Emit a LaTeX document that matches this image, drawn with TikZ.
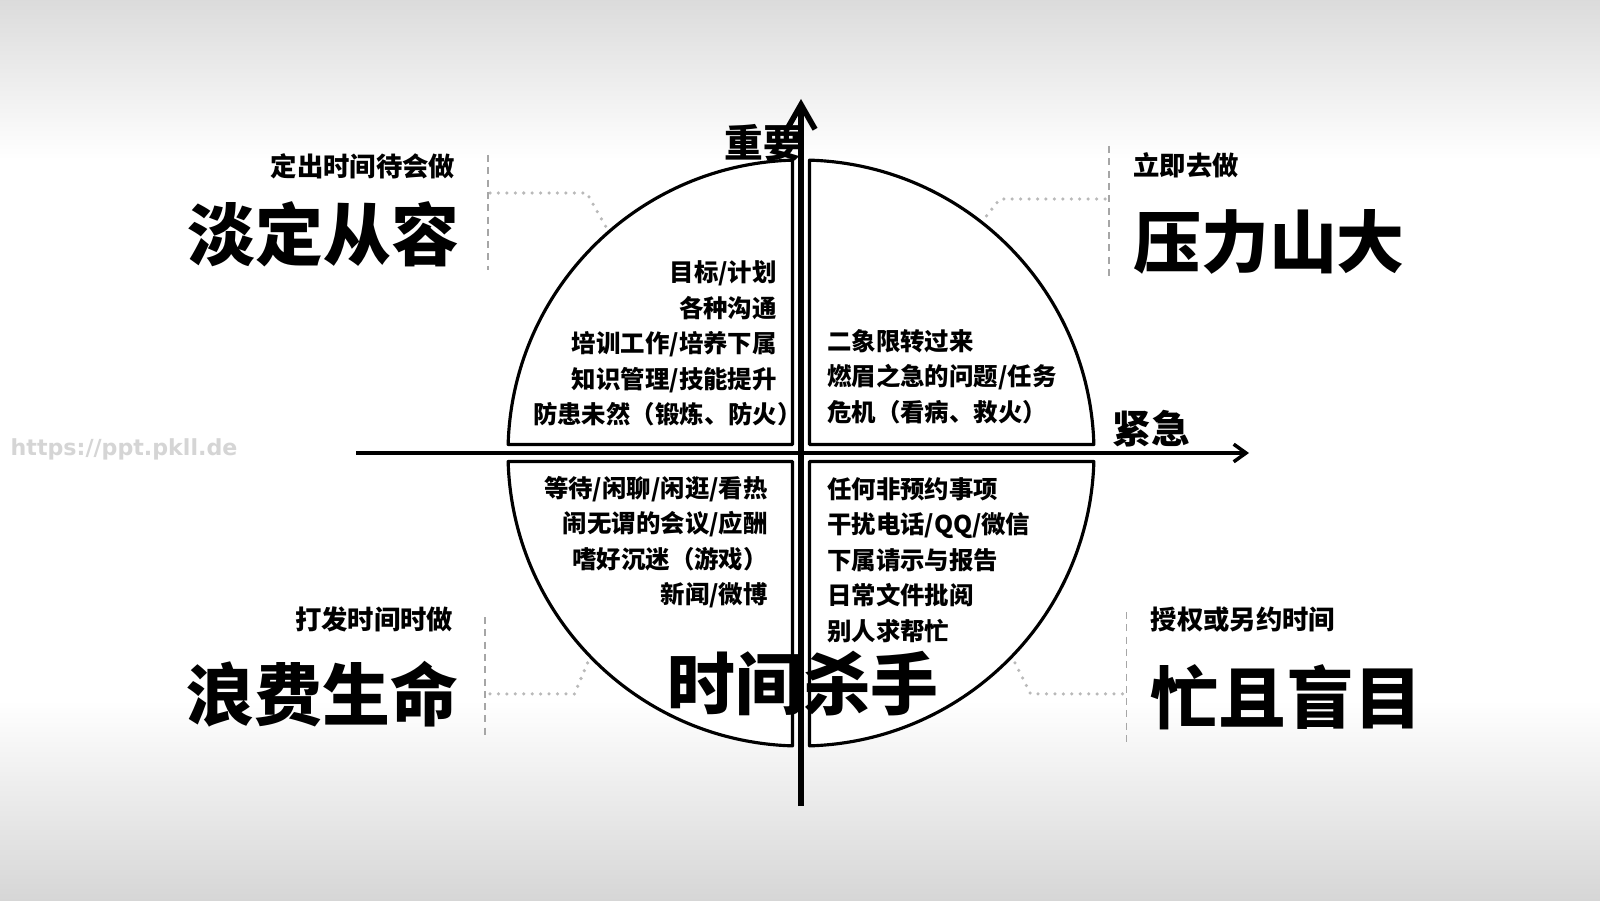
\documentclass[tikz,border=0pt]{standalone}
\usepackage{fontspec}
\newfontfamily\cjk{Noto Sans CJK SC}
\IfFontExistsTF{Noto Sans CJK SC Black}
  {\newfontfamily\cjkheavy{Noto Sans CJK SC Black}}
  {\newfontfamily\cjkheavy{Noto Sans CJK SC}[UprightFont=*, UprightFeatures={FakeBold=1.5}]}
\newfontfamily\urlfont{DejaVu Sans}
\usetikzlibrary{arrows.meta,positioning,calc}

\begin{document}
\begin{tikzpicture}[
    quarter/.style={draw, line width=0.9pt, fill=white, line join=round},
    axisLine/.style={line width=1.6pt},
    itemText/.style={font=\cjk\bfseries\fontsize{6.95pt}{10.1pt}\selectfont, inner sep=0pt},
    noteText/.style={font=\cjk\bfseries\fontsize{7.5pt}{9pt}\selectfont, inner sep=0pt},
    bigText/.style={font=\cjkheavy\fontsize{19.3pt}{21pt}\selectfont, inner sep=0pt},
    axisText/.style={font=\cjkheavy\fontsize{11pt}{12pt}\selectfont, inner sep=0pt},
    guideLine/.style={gray!70, line width=0.5pt, dash pattern=on 2pt off 1.5pt},
    dotLine/.style={gray!55, line width=1pt, line cap=round, dash pattern=on 0pt off 2.4pt}
]
		% background
		\fill[white] (0,0) rectangle (16,9);
		\shade[top color=black!14, bottom color=white] (0,7.4) rectangle (16,9);
		\shade[top color=white, bottom color=black!16] (0,0) rectangle (16,2.0);
		\useasboundingbox (0,0) rectangle (16,9);
		\node[font=\urlfont\bfseries\fontsize{6.3pt}{7pt}\selectfont, text=gray!33, anchor=west, inner sep=0pt] (siteMark) at (0.10,4.51) {https://ppt.pkll.de};
		
		\coordinate (c) at (8.01,4.47);
		\def\R{2.93}
		\def\a{1.67}
		
		% dotted leaders
		\draw[dotLine] (4.90,7.07) -- (5.867,7.07) -- ($(c)+(131:\R)$);
		\draw[dotLine] (11.05,7.01) -- (10.0,7.01) -- ($(c)+(52:\R)$);
		\draw[dotLine] (4.90,2.061) -- (5.745,2.061) -- ($(c)+(224:\R)$);
		\draw[dotLine] (11.224,2.061) -- (10.306,2.061) -- ($(c)+(-44:\R)$);
		
		% quarters
		\foreach \s in {0,90,180,270}
			\draw[quarter, shift={(c)}] (\s+\a:\R) arc[start angle=\s+\a, end angle=\s+90-\a, radius=\R] -- (\s+45:0.12) -- cycle;
		
		% dashed separators
		\draw[guideLine] (4.878,7.45) -- (4.878,6.296);
		\draw[guideLine] (11.09,7.54) -- (11.09,6.225);
		\draw[guideLine] (4.847,2.83) -- (4.847,1.60);
		\draw[guideLine] (11.265,2.88) -- (11.265,1.55);
		
		% labels
		\node[noteText, anchor=east] (calmNote) at (4.56,7.337) {定出时间待会做};
		\node[bigText, anchor=east] (calmTitle) at (4.60,6.653) {淡定从容};
		\node[noteText, anchor=west] (nowNote) at (11.327,7.347) {立即去做};
		\node[bigText, anchor=west] (nowTitle) at (11.327,6.582) {压力山大};
		\node[noteText, anchor=east] (killNote) at (4.54,2.806) {打发时间时做};
		\node[bigText, anchor=east] (killTitle) at (4.59,2.061) {浪费生命};
		\node[noteText, anchor=west] (passNote) at (11.50,2.806) {授权或另约时间};
		\node[bigText, anchor=west] (passTitle) at (11.50,2.03) {忙且盲目};
		
		% quadrant items
		\node[itemText, align=right, anchor=east] (planItems) at (7.775,5.566) {目标/计划\\各种沟通\\培训工作/培养下属\\知识管理/技能提升\\防患未然（锻炼、防火）\hspace*{-1.02em}};
		\node[itemText, align=left, anchor=west] (fireItems) at (8.265,5.235) {二象限转过来\\燃眉之急的问题/任务\\危机（看病、救火）};
		\node[itemText, align=right, anchor=east] (idleItems) at (7.684,3.577) {等待/闲聊/闲逛/看热\\闹无谓的会议/应酬\\嗜好沉迷（游戏）\\新闻/微博};
		\node[itemText, align=left, anchor=west] (busyItems) at (8.265,3.398) {任何非预约事项\\干扰电话/QQ/微信\\下属请示与报告\\日常文件批阅\\别人求帮忙};
		
		% Arrows
		\coordinate (vBottom) at (8.01,0.94);
		\coordinate (vTop) at (8.01,8.01);
		\coordinate (hLeft) at (3.56,4.47);
		\coordinate (hRight) at (12.49,4.47);
		\draw[axisLine, -{Straight Barb[length=7pt,width=8pt]}] (vBottom) -- (vTop);
		\draw[line width=1pt, -{Straight Barb[length=3.5pt,width=5pt]}] (hLeft) -- (hRight);
		
		\node[axisText] (important) at (7.63,7.57) {重要};
		\node[axisText] (urgent) at (11.51,4.71) {紧急};
		\node[bigText] (timeKiller) at (8.03,2.16) {时间杀手};
	\end{tikzpicture}
\end{document}
